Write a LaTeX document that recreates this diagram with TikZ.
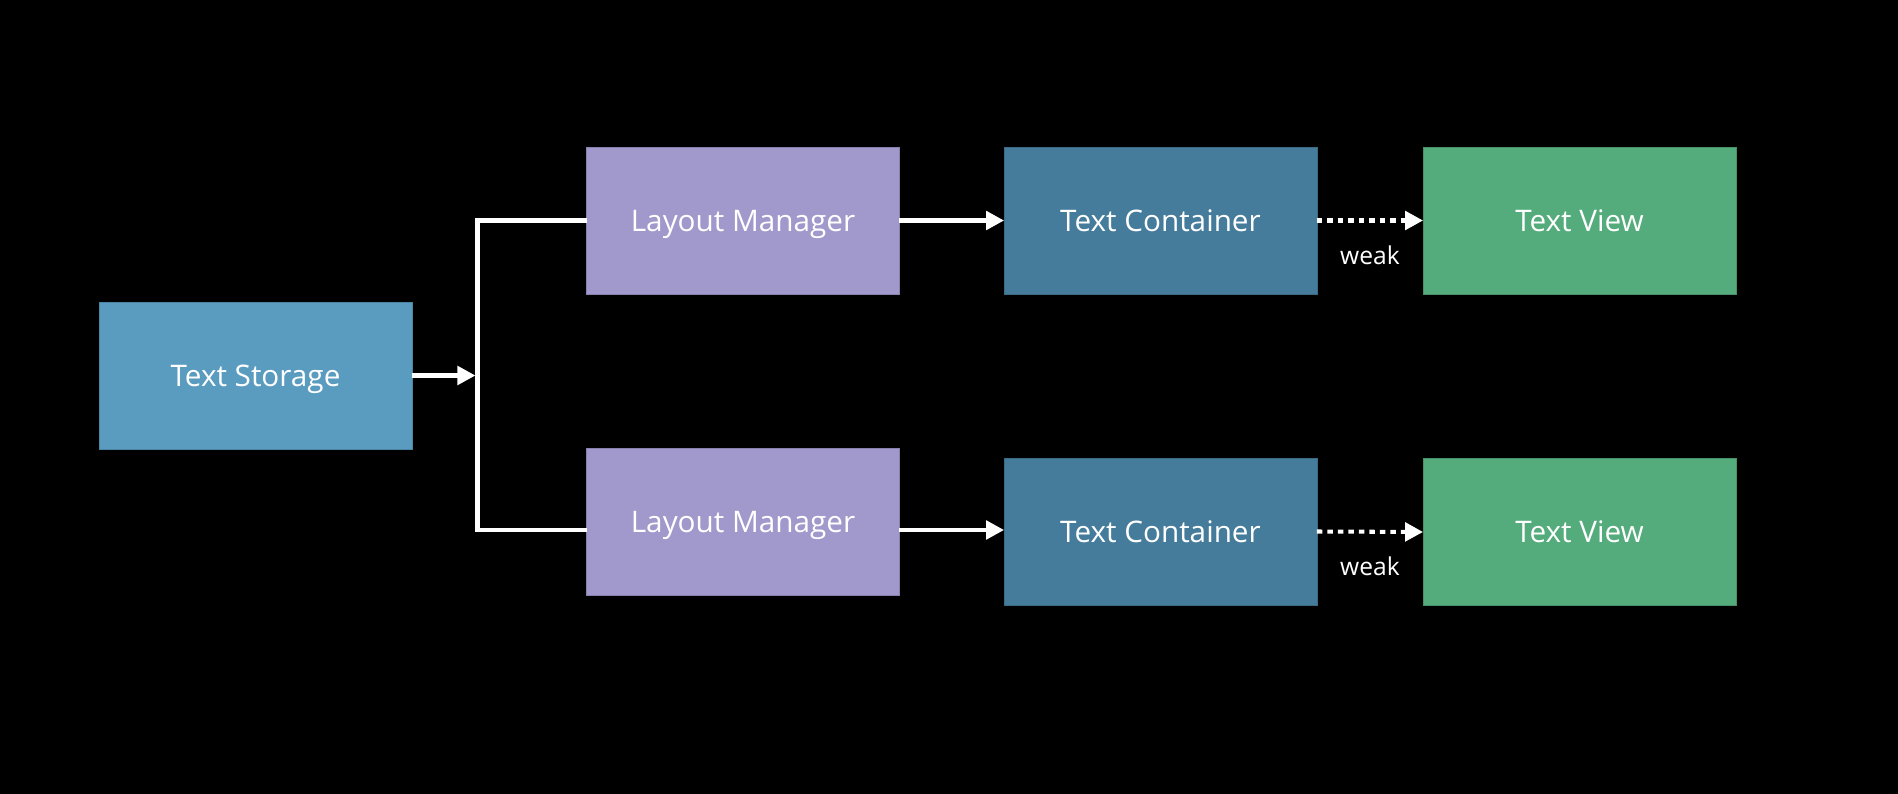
\documentclass[tikz,border=0pt]{standalone}
\usepackage{fontspec}
\setmainfont{Open Sans}
\usepackage{xcolor}
\usepackage{tikz}
\usetikzlibrary{calc,arrows.meta}
\definecolor{bg}{HTML}{000000}
\definecolor{text}{HTML}{FFFFFF}
\definecolor{storage}{HTML}{5A9BC0}
\definecolor{manager}{HTML}{A198CB}
\definecolor{container}{HTML}{467C9B}
\definecolor{view}{HTML}{54AB7B}
\tikzset{
  box/.style={rectangle, minimum width=6.26cm, minimum height=2.94cm, inner sep=0pt, outer sep=0pt,
    text=text, font=\fontsize{16.9}{20}\selectfont, text height=12.1pt, text depth=0pt},
  link/.style={draw=text, line width=2.3pt, -{Triangle[length=0.36cm,width=0.37cm]}},
  trunk/.style={draw=text, line width=2.3pt},
  weak/.style={link, dash pattern=on 0.11cm off 0.1cm},
  wlab/.style={text=text, font=\fontsize{14}{16}\selectfont, inner sep=0pt}
}
\begin{document}
\begin{tikzpicture}[x=0.02cm, y=-0.02cm]
  \fill[bg] (0,0) rectangle (1898,794);
  \useasboundingbox (0,0) rectangle (1898,794);
  \def\xj{477.5}
  \node[box, fill=storage, draw=storage!85!black] (ts) at (255.5,375.5) {Text Storage};
  \node[box, fill=manager, draw=manager!85!black] (lm1) at (743,220.5) {Layout Manager};
  \node[box, fill=manager, draw=manager!85!black] (lm2) at (743,522) {Layout Manager};
  \node[box, fill=container, draw=container!85!black] (tc1) at (1160.5,220.5) {Text Container};
  \node[box, fill=container, draw=container!85!black] (tc2) at (1160.5,531.5) {Text Container};
  \node[box, fill=view, draw=view!85!black] (tv1) at (1579.5,220.5) {Text View};
  \node[box, fill=view, draw=view!85!black] (tv2) at (1579.5,532) {Text View};
  \coordinate (j) at (\xj,375.5);
  \coordinate (lm2in) at ($(lm2.west)+(0,8)$);
  \coordinate (lm2out) at ($(lm2.east)+(0,8)$);
  \draw[trunk] (lm1.west) -| (j) |- (lm2in);
  \draw[link, shorten >=1.2pt] (ts.east) -- (j);
  \draw[link] (lm1.east) -- (tc1.west);
  \draw[link] (lm2out) -- (lm2out -| tc2.west);
  \draw[weak] (tc1.east) -- (tv1.west) node[wlab, midway, below=0.46cm] {weak};
  \draw[weak] (tc2.east) -- (tv2.west) node[wlab, midway, below=0.46cm] {weak};
\end{tikzpicture}
\end{document}
